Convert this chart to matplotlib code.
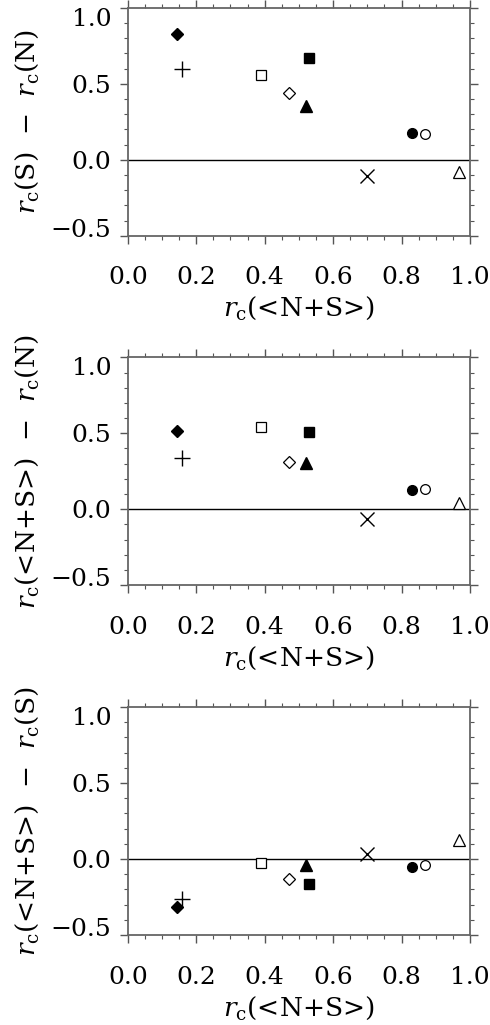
import numpy as np
import matplotlib
matplotlib.use("Agg")
import matplotlib.pyplot as plt
from matplotlib.transforms import ScaledTranslation

plt.rcParams['font.family'] = ['DejaVu Serif']
plt.rcParams['mathtext.fontset'] = 'dejavuserif'

# r_c(<N+S>) for each object
x = [0.145, 0.159, 0.388, 0.470, 0.520, 0.530, 0.698, 0.832, 0.869, 0.968]
# r_c(S) - r_c(N)
d_sn = [0.829, 0.594, 0.561, 0.439, 0.355, 0.671, -0.105, 0.175, 0.169, -0.081]
# r_c(<N+S>) - r_c(N)
d_an = [0.515, 0.336, 0.542, 0.311, 0.307, 0.507, -0.066, 0.125, 0.134, 0.039]
# r_c(<N+S>) - r_c(S)
d_as = [-0.318, -0.261, -0.024, -0.132, -0.042, -0.164, 0.033, -0.053, -0.037, 0.123]

markers = ['D', '+', 's', 'D', '^', 's', 'x', 'o', 'o', '^']
filled = [True, False, False, False, True, True, False, True, False, False]
sizes = [6, 11, 7, 6, 9, 7, 10, 7, 7, 9]

ylabels = [r'$r_{\rm c}$(S)  $-$  $r_{\rm c}$(N)',
           r'$r_{\rm c}$(<N+S>)  $-$  $r_{\rm c}$(N)',
           r'$r_{\rm c}$(<N+S>)  $-$  $r_{\rm c}$(S)']
ydata = [d_sn, d_an, d_as]
bottoms = [0.770, 0.429, 0.0878]

fig = plt.figure(figsize=(4.9, 10.25), dpi=100)

for k in range(3):
    ax = fig.add_axes([0.261, bottoms[k], 0.698, 0.2224])
    ax.axhline(0, color='black', lw=1.0, zorder=1)
    for i in range(len(x)):
        if markers[i] in ['+', 'x']:
            ax.plot(x[i], ydata[k][i], marker=markers[i], color='black',
                    ms=sizes[i], mew=1.0, ls='none', zorder=3)
        elif filled[i]:
            ax.plot(x[i], ydata[k][i], marker=markers[i], color='black',
                    ms=sizes[i], mec='black', ls='none', zorder=3)
        else:
            ax.plot(x[i], ydata[k][i], marker=markers[i], mfc='white',
                    mec='black', mew=0.9, ms=sizes[i], ls='none', zorder=3)
    ax.set_xlim(0, 1.0)
    ax.set_ylim(-0.5, 1.0)
    ax.set_xticks(np.arange(0, 1.01, 0.2))
    ax.set_xticks(np.arange(0, 1.01, 0.05), minor=True)
    ax.set_yticks([-0.5, 0.0, 0.5, 1.0])
    ax.set_yticks(np.arange(-0.5, 1.01, 0.1), minor=True)
    ax.set_xticklabels(['0.0', '0.2', '0.4', '0.6', '0.8', '1.0'])
    ax.set_yticklabels(['\u22120.5', '0.0', '0.5', '1.0'])
    ax.tick_params(which='both', direction='out', top=True, right=True,
                   labelsize=18, color='#555555')
    ax.tick_params(which='major', length=6, width=1.0)
    ax.tick_params(which='minor', length=3, width=0.8)
    ax.tick_params(axis='x', pad=16)
    ax.tick_params(axis='y', pad=6)
    # nudge end labels inward like the original
    ylab = ax.get_yticklabels()
    ylab[0].set_transform(ylab[0].get_transform() + ScaledTranslation(0, 0.08, fig.dpi_scale_trans))
    ylab[3].set_transform(ylab[3].get_transform() + ScaledTranslation(0, -0.09, fig.dpi_scale_trans))
    for s in ax.spines.values():
        s.set_color('#666666')
        s.set_linewidth(1.3)
    ax.set_xlabel(r'$r_{\rm c}$(<N+S>)', fontsize=19, labelpad=4)
    ax.set_ylabel(ylabels[k], fontsize=19, labelpad=7)

plt.savefig('out.png', dpi=100)
